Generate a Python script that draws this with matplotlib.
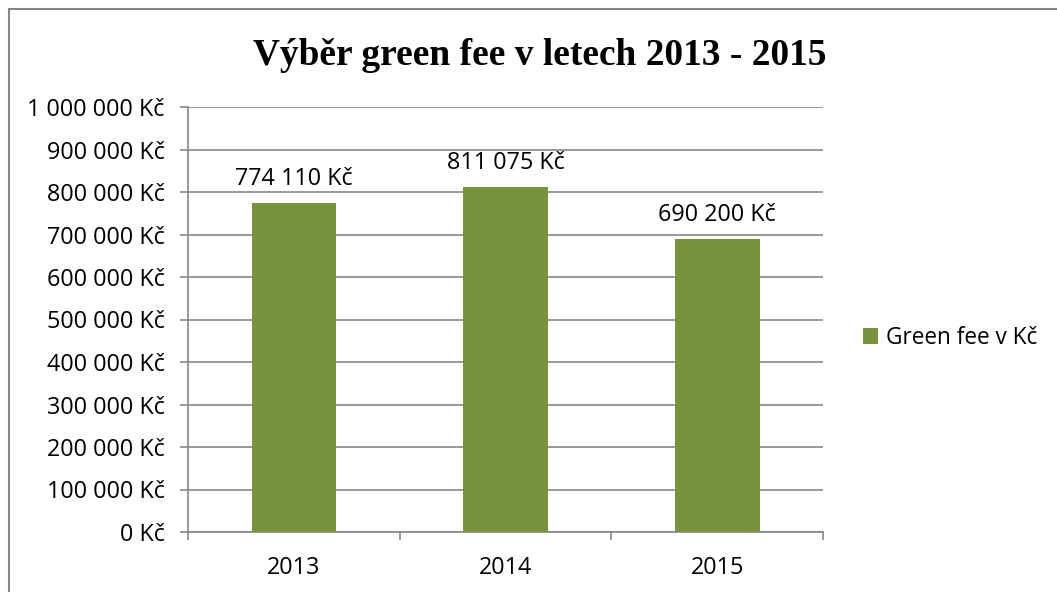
import matplotlib
matplotlib.use('Agg')
import matplotlib.pyplot as plt
from matplotlib.patches import Rectangle
from matplotlib.ticker import FuncFormatter, MultipleLocator

years = ['2013', '2014', '2015']
green_fee = [774110, 811075, 690200]
series_name = 'Green fee v Kč'
title = 'Výběr green fee v letech 2013 - 2015'

bar_color = '#77933C'
grid_color = '#878787'
W, H = 1057, 592
fs = 16.8


def kc(v, pos=None):
    return '{:,.0f}'.format(v).replace(',', ' ') + ' Kč'


fig = plt.figure(figsize=(W / 100, H / 100), dpi=100, facecolor='w')

# outer chart frame (only top and left are visible in the crop)
fig.patches.append(Rectangle((9 / W, -0.1), 1.2, (583 / H) + 0.1, transform=fig.transFigure,
                             fill=False, edgecolor='#868686', linewidth=1.5))

ax = fig.add_axes([188 / W, (H - 532) / H, 635 / W, 425 / H])
x = range(len(years))
bars = ax.bar(x, green_fee, width=0.4, color=bar_color, label=series_name, zorder=3)

ax.set_xlim(-0.5, 2.5)
ax.set_ylim(0, 1000000)
ax.yaxis.set_major_locator(MultipleLocator(100000))
ax.yaxis.set_major_formatter(FuncFormatter(kc))
ax.grid(axis='y', color=grid_color, linewidth=1.2, zorder=0)

ax.set_xticks([-0.5, 0.5, 1.5, 2.5])
ax.set_xticklabels([])
ax.set_xticks(list(x), minor=True)
ax.set_xticklabels(years, minor=True)
ax.tick_params(axis='x', which='minor', length=0, pad=17, labelsize=fs)
ax.tick_params(axis='x', which='major', length=5.8, color=grid_color, width=1.2)
ax.tick_params(axis='y', length=5.8, color=grid_color, width=1.2, labelsize=fs, pad=11)

for s in ['top', 'right']:
    ax.spines[s].set_visible(False)
for s in ['left', 'bottom']:
    ax.spines[s].set_color(grid_color)
    ax.spines[s].set_linewidth(1.2)

for b, v in zip(bars, green_fee):
    ax.annotate(kc(v), (b.get_x() + b.get_width() / 2, v), xytext=(0, 18),
                textcoords='offset pixels', ha='center', va='baseline', fontsize=fs)

for t in ax.get_xticklabels(minor=True) + ax.get_yticklabels() + ax.texts:
    t.set_family('Open Sans')

fig.text(540 / W, 1 - 65 / H, title, ha='center', va='baseline', fontsize=26.9,
         fontweight='bold', family='Liberation Serif')

leg = fig.legend(loc='center left', bbox_to_anchor=(843 / W, 1 - 338 / H), frameon=False,
                 handlelength=0.65, handleheight=0.65, handletextpad=0.35,
                 prop={'family': 'Open Sans', 'size': 16.3})

fig.savefig('out.png', dpi=100)
